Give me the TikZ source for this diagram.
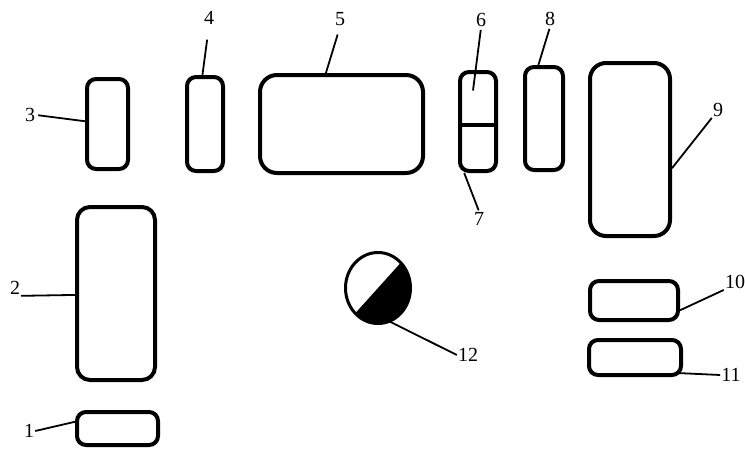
\documentclass[tikz,border=0pt]{standalone}
\usepackage{fontspec}
\setmainfont{Liberation Serif}
\usetikzlibrary{calc,shapes.geometric}

\begin{document}
\begin{tikzpicture}[x=1pt,y=-1pt,
    part/.style={draw,line width=4pt,rounded corners=9pt,inner sep=0pt},
    num/.style={font=\fontsize{20}{24}\selectfont,inner sep=1pt},
    leader/.style={line width=1.8pt}]
  \useasboundingbox (0,0) rectangle (745,450);
  % parts
  \node[part,minimum width=81pt,minimum height=33pt] (b1) at (117.5,428.5) {};
  \node[part,minimum width=78pt,minimum height=173pt,rounded corners=13pt] (b2) at (116,293.5) {};
  \node[part,minimum width=41pt,minimum height=90pt] (b3) at (107.5,124) {};
  \node[part,minimum width=36pt,minimum height=94pt] (b4) at (205,124) {};
  \node[part,minimum width=163pt,minimum height=98pt,rounded corners=17pt] (b5) at (341.5,124) {};
  \node[part,minimum width=36pt,minimum height=99pt] (b67) at (478,121.5) {};
  \node[part,minimum width=38pt,minimum height=103pt] (b8) at (544,118.5) {};
  \node[part,minimum width=80pt,minimum height=173pt,rounded corners=16pt] (b9) at (630,149.5) {};
  \node[part,minimum width=88pt,minimum height=39pt] (b10) at (634,300.5) {};
  \node[part,minimum width=92pt,minimum height=35pt] (b11) at (635,357.5) {};
  \draw[line width=4pt] ($(b67.west)+(0,3)$) -- ($(b67.east)+(0,3)$);
  % half-filled sight glass
  \node[ellipse,minimum width=65pt,minimum height=71pt,inner sep=0pt] (b12) at (378,288) {};
  \begin{scope}
    \clip (b12.center) ellipse [x radius=32.5pt,y radius=35.5pt];
    \fill ($(b12.center)+(48:100pt)$) -- ($(b12.center)+(-42:100pt)$) -- ($(b12.center)+(228:100pt)$) -- cycle;
  \end{scope}
  \draw[line width=3pt] (b12.center) ellipse [x radius=32.5pt,y radius=35.5pt];
  % numbers
  \node[num] (lab1) at (29,431) {1};
  \node[num] (lab2) at (15,288) {2};
  \node[num] (lab3) at (30,115) {3};
  \node[num] (lab4) at (209,18) {4};
  \node[num] (lab5) at (340,19) {5};
  \node[num] (lab6) at (481,20) {6};
  \node[num] (lab7) at (479,219) {7};
  \node[num] (lab8) at (550,19) {8};
  \node[num] (lab9) at (718,110) {9};
  \node[num] (lab10) at (735,282) {10};
  \node[num] (lab11) at (731,375) {11};
  \node[num] (lab12) at (468,355) {12};
  \coordinate (in6) at ($(b67.center)+(-5,-31)$);
  \coordinate (end11) at ($(b11.south east)+(-6,-4)$);
  \foreach \a/\b/\s in {lab1.east/b1.171/0,lab2.south east/b2.182/0,lab3.east/b3.173/2,
      lab4.south/b4.93/14,lab5.south/b5.107/8,lab6.south/in6/2,lab7.north/b67.255/1,
      lab8.south/b8.96/2,lab9.south west/b9.336/0,lab10.south west/b10.348/0,
      lab11.west/end11/0,lab12.west/b12.289/0}
    {\draw[leader,shorten <=\s pt] (\a) -- (\b);}
\end{tikzpicture}
\end{document}
